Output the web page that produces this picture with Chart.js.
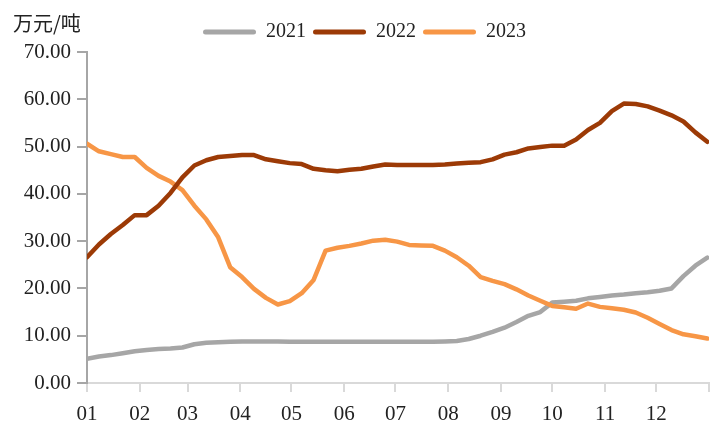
<!DOCTYPE html>
<html>
<head>
<meta charset="utf-8">
<script src="https://cdn.jsdelivr.net/npm/chart.js@4"></script>
<style>
    body { margin: 0; background: #fff; }
    #wrap { position: relative; width: 723px; height: 426px; }
    #unit {
        position: absolute; left: 13px; top: 8px;
        font: 20px "Noto Sans CJK SC", sans-serif; color: #222;
    }
</style>
</head>
<body>
<div id="wrap">
    <canvas id="chart1" width="723" height="426"></canvas>
    <div id="unit">万元/吨</div>
</div>
<script>
// day of year for each weekly reading
const days = [0, 7, 14, 21, 28, 35, 42, 49, 56, 63, 70, 77, 84, 91, 98, 105, 112, 119, 126, 133,
    140, 147, 154, 161, 168, 175, 182, 189, 196, 203, 210, 217, 224, 231, 238, 245, 252, 259, 266, 273,
    280, 287, 294, 301, 308, 315, 322, 329, 336, 343, 350, 357, 364];

const y2021 = [5.1, 5.6, 5.9, 6.3, 6.7, 7.0, 7.2, 7.3, 7.5, 8.2, 8.5, 8.6, 8.7, 8.8, 8.8, 8.8, 8.8, 8.7, 8.7, 8.7,
    8.7, 8.7, 8.7, 8.7, 8.7, 8.7, 8.7, 8.7, 8.7, 8.7, 8.8, 8.9, 9.3, 10.0, 10.8, 11.7, 12.9, 14.2, 15.0, 17.0,
    17.2, 17.4, 17.9, 18.2, 18.5, 18.7, 19.0, 19.2, 19.5, 20.0, 22.6, 24.8, 26.5];

const y2022 = [26.6, 29.3, 31.5, 33.4, 35.5, 35.5, 37.5, 40.2, 43.5, 46.0, 47.1, 47.8, 48.0, 48.2, 48.2, 47.3, 46.9, 46.5, 46.3, 45.3,
    45.0, 44.8, 45.1, 45.3, 45.8, 46.2, 46.1, 46.1, 46.1, 46.1, 46.2, 46.4, 46.6, 46.7, 47.3, 48.3, 48.8, 49.6, 49.9, 50.2,
    50.2, 51.5, 53.5, 55.0, 57.5, 59.1, 59.0, 58.5, 57.6, 56.6, 55.3, 53.0, 51.0];

const y2023 = [50.6, 49.0, 48.4, 47.8, 47.8, 45.5, 43.8, 42.6, 40.8, 37.5, 34.6, 30.8, 24.5, 22.4, 19.9, 18.0, 16.6, 17.3, 19.0, 21.8,
    28.0, 28.6, 29.0, 29.5, 30.1, 30.3, 29.9, 29.2, 29.1, 29.0, 28.0, 26.6, 24.8, 22.4, 21.6, 20.9, 19.8, 18.5, 17.4, 16.3,
    16.0, 15.7, 16.8, 16.1, 15.8, 15.5, 14.9, 13.8, 12.5, 11.2, 10.3, 9.9, 9.4];

const monthStarts = [0, 31, 59, 90, 120, 151, 181, 212, 243, 273, 304, 334, 365];
const monthLabels = ['01', '02', '03', '04', '05', '06', '07', '08', '09', '10', '11', '12', ''];

const serif = '"Liberation Serif", "DejaVu Serif", serif';

function series(label, values, color, order) {
    return {
        label: label,
        data: days.map((d, i) => ({ x: d, y: values[i] })),
        borderColor: color,
        backgroundColor: color,
        borderWidth: 4.5,
        borderCapStyle: 'round',
        borderJoinStyle: 'round',
        pointRadius: 0,
        tension: 0,
        order: order
    };
}

const chart1 = document.getElementById('chart1');
let lineChart = new Chart(chart1, {
    type: 'line',
    data: {
        datasets: [
            series('2021', y2021, '#A6A6A6', 2),
            series('2022', y2022, '#9C3A06', 0),
            series('2023', y2023, '#F79646', 1)
        ]
    },
    options: {
        responsive: false,
        devicePixelRatio: 1,
        animation: false,
        layout: { padding: { left: 20, right: 14, top: 15, bottom: 0 } },
        plugins: {
            tooltip: { enabled: false },
            legend: {
                position: 'top',
                labels: {
                    font: { family: serif, size: 20 },
                    color: '#222',
                    boxWidth: 53,
                    boxHeight: 5,
                    padding: 7,
                    useBorderRadius: true,
                    borderRadius: 2.5,
                    sort: (a, b) => a.datasetIndex - b.datasetIndex,
                    generateLabels: function (chart) {
                        const items = Chart.defaults.plugins.legend.labels.generateLabels(chart);
                        items.forEach(it => { it.lineWidth = 0; });
                        return items;
                    }
                }
            }
        },
        scales: {
            x: {
                type: 'linear',
                min: 0,
                max: 365,
                afterBuildTicks: function (scale) {
                    scale.ticks = monthStarts.map(v => ({ value: v }));
                },
                afterFit: function (scale) { scale.height = 43; },
                ticks: {
                    autoSkip: false,
                    maxRotation: 0,
                    padding: 10,
                    color: '#222',
                    font: { family: serif, size: 21 },
                    callback: function (v) {
                        const i = monthStarts.indexOf(v);
                        return i >= 0 ? monthLabels[i] : '';
                    }
                },
                grid: { drawOnChartArea: false, tickLength: 9, color: '#D9D9D9', lineWidth: 2 },
                border: { color: '#D9D9D9', width: 2 }
            },
            y: {
                min: 0,
                max: 70,
                afterFit: function (scale) { scale.width = 67; },
                ticks: {
                    stepSize: 10,
                    padding: 6,
                    color: '#222',
                    font: { family: serif, size: 21 },
                    callback: v => v.toFixed(2)
                },
                grid: { drawOnChartArea: false, tickLength: 10, color: '#A6A6A6', lineWidth: 2 },
                border: { color: '#A6A6A6', width: 2 }
            }
        }
    }
});
</script>
</body>
</html>
